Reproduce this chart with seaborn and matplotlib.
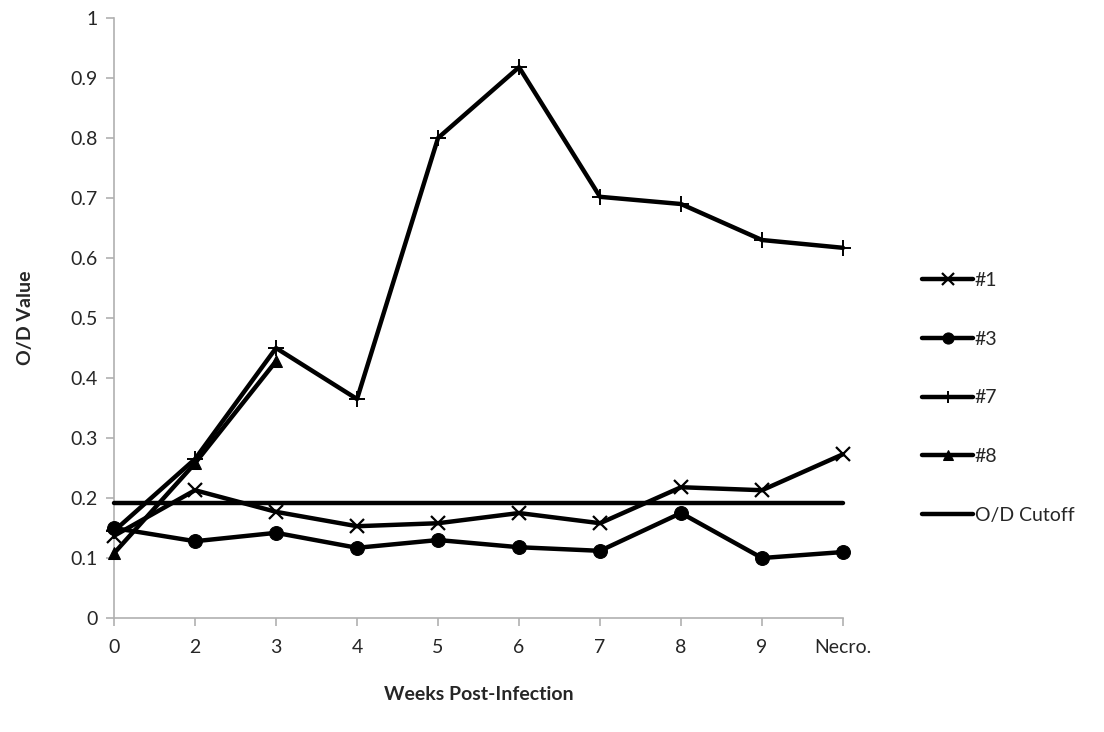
import matplotlib
matplotlib.use("Agg")
import matplotlib.pyplot as plt
import pandas as pd
import seaborn as sns


WEEKS = ["0", "2", "3", "4", "5", "6", "7", "8", "9", "Necro."]
SAMPLE_1 = [0.137, 0.213, 0.177, 0.153, 0.158, 0.175, 0.158, 0.218, 0.213, 0.273]
SAMPLE_3 = [0.150, 0.128, 0.142, 0.117, 0.130, 0.118, 0.112, 0.175, 0.100, 0.110]
SAMPLE_7 = [0.145, 0.265, 0.450, 0.365, 0.800, 0.918, 0.702, 0.690, 0.630, 0.617]
SAMPLE_8 = [0.108, 0.258, 0.428]
CUTOFF = [0.192] * len(WEEKS)


def main() -> None:
    sns.set_theme(style="white")
    plt.rcParams["font.family"] = ["Lato", "DejaVu Sans"]

    fig = plt.figure(figsize=(11.04, 7.32), dpi=100)
    ax = fig.add_axes([0.1033, 0.1557, 0.6603, 0.8197])

    series = [
        ("#1", SAMPLE_1, dict(marker="x", markersize=10, markeredgewidth=1.6)),
        ("#3", SAMPLE_3, dict(marker="o", markersize=10)),
        ("#7", SAMPLE_7, dict(marker="+", markersize=11, markeredgewidth=1.4)),
        ("#8", SAMPLE_8, dict(marker="^", markersize=9)),
        ("O/D Cutoff", CUTOFF, dict()),
    ]
    for name, values, style in series:
        df = pd.DataFrame({"pos": range(len(values)), "value": values})
        sns.lineplot(
            data=df,
            x="pos",
            y="value",
            color="black",
            linewidth=3.2,
            markeredgecolor="black",
            label=name,
            clip_on=False,
            zorder=3,
            ax=ax,
            **style,
        )

    ax.set_xlim(0, len(WEEKS) - 1)
    ax.set_ylim(0, 1)
    ax.set_xticks(range(len(WEEKS)))
    ax.set_xticklabels(WEEKS)
    ax.set_yticks([i / 10 for i in range(11)])
    ax.set_yticklabels(["0"] + [f"{i / 10:.1f}" for i in range(1, 10)] + ["1"])
    ax.tick_params(axis="both", labelsize=14, length=6, width=1.2,
                   color="#b0b0b0", direction="out", pad=6,
                   bottom=True, left=True)
    ax.tick_params(axis="x", pad=9)
    for side in ["top", "right"]:
        ax.spines[side].set_visible(False)
    for side in ["left", "bottom"]:
        ax.spines[side].set_color("#b0b0b0")
        ax.spines[side].set_linewidth(1.2)

    ax.set_xlabel("Weeks Post-Infection", fontsize=14, fontweight="bold", labelpad=22)
    ax.set_ylabel("O/D Value", fontsize=14, fontweight="bold", labelpad=26)

    ax.legend(
        loc="center left",
        bbox_to_anchor=(1.085, 0.367),
        frameon=False,
        fontsize=14,
        handlelength=2.6,
        handletextpad=0.1,
        labelspacing=2.15,
        markerscale=0.8,
    )

    fig.savefig("out.png", dpi=100)
    plt.close(fig)


if __name__ == "__main__":
    main()
